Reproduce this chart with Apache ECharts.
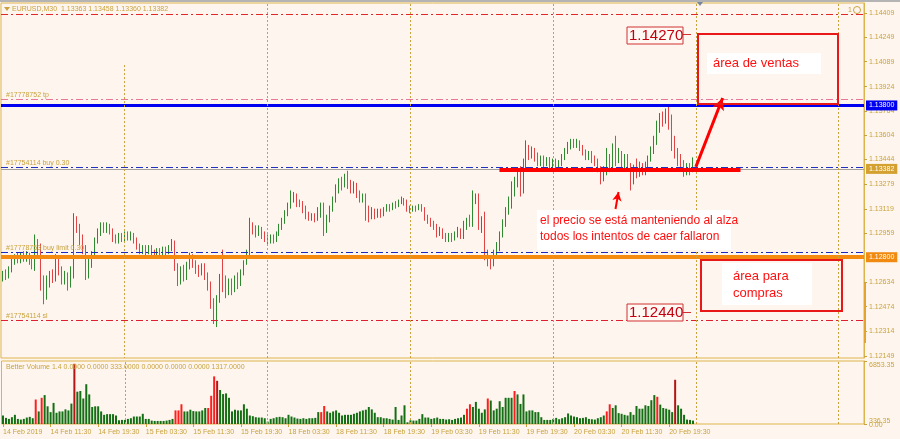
<!DOCTYPE html>
<html>
<head>
<meta charset="utf-8">
<title>EURUSD M30</title>
<script src="https://cdn.jsdelivr.net/npm/echarts@6/dist/echarts.min.js"></script>
<style>
html,body{margin:0;padding:0;background:#fef6ee;}
#chart{width:900px;height:439px;}
</style>
</head>
<body>
<div id="chart"></div>
<script>
// velas M30 [open, close, low, high], 14 Feb 03:30 -> 20 Feb 23:30
const candles = [
  [1.1266,1.1269,1.1264,1.1271],[1.1269,1.1267,1.1265,1.1272],[1.1267,1.1272,1.1266,1.1274],[1.1272,1.1277,1.1270,1.1279],
  [1.1277,1.1280,1.1275,1.1282],[1.1280,1.1278,1.1276,1.1283],[1.1278,1.1281,1.1276,1.1283],[1.1281,1.1279,1.1277,1.1284],
  [1.1279,1.1282,1.1277,1.1284],[1.1282,1.1277,1.1275,1.1283],[1.1277,1.1275,1.1272,1.1280],[1.1275,1.1289,1.1271,1.1295],
  [1.1289,1.1286,1.1280,1.1292],[1.1286,1.1263,1.1258,1.1289],[1.1263,1.1254,1.1249,1.1268],[1.1254,1.1263,1.1252,1.1268],
  [1.1263,1.1268,1.1260,1.1271],[1.1268,1.1266,1.1263,1.1272],[1.1266,1.1279,1.1264,1.1282],[1.1279,1.1272,1.1268,1.1281],
  [1.1272,1.1265,1.1262,1.1274],[1.1265,1.1269,1.1262,1.1271],[1.1269,1.1262,1.1258,1.1270],[1.1262,1.1270,1.1260,1.1274],
  [1.1270,1.1305,1.1266,1.1309],[1.1305,1.1299,1.1296,1.1307],[1.1299,1.1292,1.1288,1.1302],[1.1292,1.1286,1.1282,1.1295],
  [1.1286,1.1270,1.1265,1.1288],[1.1270,1.1276,1.1266,1.1279],[1.1276,1.1282,1.1273,1.1284],[1.1282,1.1291,1.1280,1.1293],
  [1.1291,1.1297,1.1289,1.1299],[1.1297,1.1301,1.1294,1.1303],[1.1301,1.1298,1.1296,1.1303],[1.1298,1.1301,1.1296,1.1303],
  [1.1301,1.1297,1.1295,1.1302],[1.1297,1.1292,1.1290,1.1299],[1.1292,1.1291,1.1289,1.1295],[1.1291,1.1294,1.1289,1.1296],
  [1.1294,1.1292,1.1290,1.1296],[1.1292,1.1295,1.1290,1.1297],[1.1295,1.1293,1.1291,1.1297],[1.1293,1.1295,1.1291,1.1297],
  [1.1295,1.1291,1.1289,1.1296],[1.1291,1.1287,1.1285,1.1293],[1.1287,1.1284,1.1282,1.1289],[1.1284,1.1286,1.1282,1.1288],
  [1.1286,1.1283,1.1281,1.1288],[1.1283,1.1286,1.1282,1.1288],[1.1286,1.1283,1.1281,1.1288],[1.1283,1.1282,1.1280,1.1285],
  [1.1282,1.1284,1.1280,1.1286],[1.1284,1.1282,1.1280,1.1286],[1.1282,1.1285,1.1280,1.1287],[1.1285,1.1283,1.1281,1.1287],
  [1.1283,1.1286,1.1282,1.1288],[1.1286,1.1288,1.1284,1.1292],[1.1288,1.1274,1.1271,1.1291],[1.1274,1.1265,1.1261,1.1276],
  [1.1265,1.1271,1.1262,1.1274],[1.1271,1.1267,1.1264,1.1275],[1.1267,1.1274,1.1265,1.1277],[1.1274,1.1280,1.1272,1.1283],
  [1.1280,1.1276,1.1273,1.1282],[1.1276,1.1272,1.1269,1.1278],[1.1272,1.1270,1.1267,1.1275],[1.1270,1.1274,1.1268,1.1276],
  [1.1274,1.1268,1.1265,1.1276],[1.1268,1.1262,1.1258,1.1270],[1.1262,1.1250,1.1246,1.1264],[1.1250,1.1241,1.1236,1.1253],
  [1.1241,1.1252,1.1234,1.1255],[1.1252,1.1266,1.1250,1.1269],[1.1266,1.1261,1.1257,1.1285],[1.1261,1.1256,1.1253,1.1268],
  [1.1256,1.1262,1.1255,1.1266],[1.1262,1.1258,1.1255,1.1266],[1.1258,1.1265,1.1257,1.1268],[1.1265,1.1262,1.1259,1.1270],
  [1.1262,1.1270,1.1261,1.1272],[1.1270,1.1276,1.1268,1.1278],[1.1276,1.1282,1.1275,1.1285],[1.1282,1.1301,1.1280,1.1306],
  [1.1301,1.1298,1.1295,1.1303],[1.1298,1.1295,1.1293,1.1301],[1.1295,1.1298,1.1294,1.1301],[1.1298,1.1294,1.1292,1.1300],
  [1.1294,1.1292,1.1290,1.1297],[1.1292,1.1290,1.1288,1.1295],[1.1290,1.1293,1.1289,1.1295],[1.1293,1.1291,1.1289,1.1295],
  [1.1291,1.1295,1.1290,1.1297],[1.1295,1.1300,1.1294,1.1302],[1.1300,1.1304,1.1298,1.1306],[1.1304,1.1309,1.1302,1.1311],
  [1.1309,1.1314,1.1307,1.1316],[1.1314,1.1319,1.1312,1.1324],[1.1319,1.1320,1.1316,1.1323],[1.1320,1.1316,1.1313,1.1322],
  [1.1316,1.1315,1.1313,1.1318],[1.1315,1.1312,1.1309,1.1317],[1.1312,1.1308,1.1305,1.1314],[1.1308,1.1306,1.1304,1.1310],
  [1.1306,1.1307,1.1304,1.1309],[1.1307,1.1305,1.1303,1.1309],[1.1305,1.1310,1.1304,1.1313],[1.1310,1.1314,1.1306,1.1316],
  [1.1314,1.1297,1.1294,1.1316],[1.1297,1.1305,1.1296,1.1308],[1.1305,1.1312,1.1303,1.1314],[1.1312,1.1318,1.1310,1.1320],
  [1.1318,1.1326,1.1316,1.1328],[1.1326,1.1330,1.1322,1.1332],[1.1330,1.1327,1.1324,1.1333],[1.1327,1.1332,1.1326,1.1335],
  [1.1332,1.1329,1.1325,1.1337],[1.1329,1.1324,1.1322,1.1331],[1.1324,1.1328,1.1322,1.1330],[1.1328,1.1322,1.1319,1.1329],
  [1.1322,1.1318,1.1316,1.1324],[1.1318,1.1320,1.1316,1.1322],[1.1320,1.1310,1.1304,1.1322],[1.1310,1.1306,1.1303,1.1314],
  [1.1306,1.1310,1.1305,1.1313],[1.1310,1.1307,1.1305,1.1312],[1.1307,1.1310,1.1306,1.1312],[1.1310,1.1308,1.1306,1.1312],
  [1.1308,1.1311,1.1307,1.1313],[1.1311,1.1313,1.1310,1.1315],[1.1313,1.1312,1.1310,1.1315],[1.1312,1.1315,1.1311,1.1316],
  [1.1315,1.1314,1.1312,1.1317],[1.1314,1.1316,1.1313,1.1318],[1.1316,1.1318,1.1315,1.1320],[1.1318,1.1316,1.1314,1.1319],
  [1.1316,1.1312,1.1310,1.1318],[1.1312,1.1311,1.1309,1.1314],[1.1311,1.1313,1.1310,1.1314],[1.1313,1.1312,1.1310,1.1314],
  [1.1312,1.1314,1.1311,1.1315],[1.1314,1.1312,1.1310,1.1315],[1.1312,1.1306,1.1304,1.1313],[1.1306,1.1304,1.1302,1.1308],
  [1.1304,1.1302,1.1300,1.1306],[1.1302,1.1300,1.1298,1.1304],[1.1300,1.1296,1.1293,1.1302],[1.1296,1.1298,1.1294,1.1300],
  [1.1298,1.1294,1.1292,1.1299],[1.1294,1.1292,1.1290,1.1296],[1.1292,1.1294,1.1290,1.1296],[1.1294,1.1292,1.1290,1.1296],
  [1.1292,1.1295,1.1291,1.1297],[1.1295,1.1297,1.1293,1.1300],[1.1297,1.1294,1.1292,1.1299],[1.1294,1.1300,1.1292,1.1304],
  [1.1300,1.1304,1.1298,1.1306],[1.1304,1.1302,1.1300,1.1308],[1.1302,1.1318,1.1300,1.1324],[1.1318,1.1320,1.1315,1.1322],
  [1.1320,1.1300,1.1298,1.1322],[1.1300,1.1304,1.1296,1.1307],[1.1304,1.1280,1.1278,1.1310],[1.1280,1.1278,1.1274,1.1285],
  [1.1278,1.1276,1.1272,1.1281],[1.1276,1.1283,1.1274,1.1285],[1.1283,1.1286,1.1280,1.1290],[1.1286,1.1295,1.1284,1.1297],
  [1.1295,1.1302,1.1293,1.1305],[1.1302,1.1310,1.1300,1.1313],[1.1310,1.1316,1.1308,1.1320],[1.1316,1.1322,1.1312,1.1330],
  [1.1322,1.1330,1.1320,1.1333],[1.1330,1.1336,1.1326,1.1338],[1.1336,1.1325,1.1320,1.1340],[1.1325,1.1340,1.1322,1.1345],
  [1.1340,1.1352,1.1338,1.1357],[1.1352,1.1348,1.1344,1.1354],[1.1348,1.1350,1.1345,1.1353],[1.1350,1.1346,1.1343,1.1352],
  [1.1346,1.1342,1.1340,1.1349],[1.1342,1.1345,1.1340,1.1347],[1.1345,1.1342,1.1339,1.1347],[1.1342,1.1344,1.1340,1.1346],
  [1.1344,1.1341,1.1338,1.1346],[1.1341,1.1343,1.1338,1.1345],[1.1343,1.1340,1.1337,1.1345],[1.1340,1.1342,1.1338,1.1344],
  [1.1342,1.1346,1.1340,1.1348],[1.1346,1.1350,1.1344,1.1352],[1.1350,1.1353,1.1348,1.1356],[1.1353,1.1356,1.1351,1.1358],
  [1.1356,1.1354,1.1352,1.1358],[1.1354,1.1356,1.1352,1.1358],[1.1356,1.1352,1.1350,1.1357],[1.1352,1.1349,1.1347,1.1354],
  [1.1349,1.1346,1.1344,1.1351],[1.1346,1.1348,1.1344,1.1350],[1.1348,1.1344,1.1342,1.1350],[1.1344,1.1342,1.1340,1.1347],
  [1.1342,1.1338,1.1336,1.1345],[1.1338,1.1333,1.1328,1.1340],[1.1333,1.1336,1.1330,1.1340],[1.1336,1.1344,1.1334,1.1352],
  [1.1344,1.1340,1.1336,1.1348],[1.1340,1.1350,1.1338,1.1355],[1.1350,1.1345,1.1340,1.1360],[1.1345,1.1348,1.1342,1.1352],
  [1.1348,1.1342,1.1338,1.1350],[1.1342,1.1345,1.1338,1.1348],[1.1345,1.1340,1.1337,1.1348],[1.1340,1.1330,1.1324,1.1342],
  [1.1330,1.1338,1.1328,1.1341],[1.1338,1.1335,1.1332,1.1345],[1.1335,1.1340,1.1333,1.1343],[1.1340,1.1336,1.1334,1.1342],
  [1.1336,1.1340,1.1334,1.1343],[1.1340,1.1345,1.1338,1.1347],[1.1345,1.1350,1.1343,1.1353],[1.1350,1.1356,1.1348,1.1360],
  [1.1356,1.1365,1.1354,1.1370],[1.1365,1.1372,1.1362,1.1375],[1.1372,1.1370,1.1366,1.1376],[1.1370,1.1373,1.1368,1.1378],
  [1.1373,1.1368,1.1364,1.1380],[1.1368,1.1355,1.1350,1.1374],[1.1355,1.1350,1.1345,1.1360],[1.1350,1.1345,1.1340,1.1352],
  [1.1345,1.1340,1.1337,1.1348],[1.1340,1.1336,1.1333,1.1344],[1.1336,1.1340,1.1334,1.1342],[1.1340,1.1336,1.1334,1.1342],
  [1.13363,1.13382,1.13360,1.13458]
];

// Better Volume
const volumes = [
  925,666,555,740,999,555,481,555,703,777,629,2664,1369,2849,3145,1924,1295,2294,1221,1369,
  1369,1591,1480,2220,6549,3515,3589,2775,4329,3219,1850,1924,1924,1369,999,1073,1073,1073,925,407,
  444,444,555,629,814,814,814,1110,555,555,370,333,333,333,333,370,444,555,1480,1480,
  2146,1369,1369,1554,1406,1369,1369,1480,1739,1739,3071,5180,4699,3700,3256,3330,2849,1369,1554,1480,
  1480,2146,1665,925,851,740,703,703,629,259,555,629,740,777,740,629,999,814,703,592,
  555,629,555,629,629,666,1295,1295,1961,1369,1221,1369,1480,1221,925,999,999,999,1110,1221,
  1369,1480,1554,1850,1591,1221,740,740,629,629,555,481,1850,444,925,2035,185,407,370,370,
  555,1073,703,703,555,629,703,555,555,480,520,444,555,629,703,999,1665,2146,1850,2405,
  1665,1221,1591,2775,2553,1480,1665,2479,1850,2849,2849,2849,3589,3219,2183,3219,1369,1480,1480,1295,
  1295,740,444,444,444,555,666,518,629,740,1147,925,814,740,629,666,740,555,518,481,
  629,740,925,1369,2146,1739,2035,1184,1110,999,925,1295,999,1961,1665,1665,2035,1961,2590,3145,
  2960,2109,1739,1665,1554,1295,4810,2035,1665,999,481,444,370
];
const volClimax = [11,13,58,59,60,69,70,71,107,108,156,157,163,172,203,204,220];
const volChurn = [24,72,226];
const volLevel = 336.35;

const timeLabels = ['14 Feb 2019','14 Feb 11:30','14 Feb 19:30','15 Feb 03:30','15 Feb 11:30','15 Feb 19:30',
  '18 Feb 03:30','18 Feb 11:30','18 Feb 19:30','19 Feb 03:30','19 Feb 11:30','19 Feb 19:30',
  '20 Feb 03:30','20 Feb 11:30','20 Feb 19:30'];
const timeLabelIdx = [0,16,32,48,64,80,96,112,128,144,160,176,192,208,224];
const daySeparators = [41,89,137,185,233,281];

const priceTicks = [1.14409,1.14249,1.14089,1.13924,1.13764,1.13604,1.13444,1.13279,1.13119,1.12959,1.12634,1.12474,1.12314,1.12149];
const volTicks = [0,6853.35];

// niveles de las órdenes
const levelPrices = [1.14400,1.13839,1.13800,1.13392,1.13382,1.12832,1.12800,1.12384];
const levelNames = ['','#17778752 tp','','#17754114 buy 0.30','','#17778753 buy limit 0.30','','#17754114 sl'];
const priceMarks = [1.14270,1.12440];

const slots = 290;
const gold = '#c9a23e';
const frame = '#dcb44c';
const dashDot = [7,3,2,3];

const levelStyles = [
  {color:'#e02828', width:1, type:dashDot},
  {color:'#e8789a', width:1, type:dashDot},
  {color:'#0000f0', width:3, type:'solid', tag:'#0000f0'},
  {color:'#2030c0', width:1, type:dashDot},
  {color:'#a0a0a0', width:1, type:'solid', tag:'#d4a030'},
  {color:'#1828c0', width:1, type:dashDot},
  {color:'#f58a10', width:4, type:'solid', tag:'#f08a10'},
  {color:'#e02030', width:1, type:dashDot}
];

let chart = echarts.init(document.getElementById('chart'));
let cats = [];
for (let i = 0; i < slots; i++) cats.push(String(i));

let levelLines = levelPrices.map((p, k) => {
  let st = levelStyles[k];
  let item = {yAxis: p, lineStyle: {color: st.color, width: st.width, type: st.type}, label: {show: false}};
  if (levelNames[k]) {
    item.label = {show: true, position: 'insideStartTop', formatter: levelNames[k], color: gold,
      fontSize: 7, fontFamily: 'Liberation Sans', distance: [5, 1]};
  } else if (st.tag) {
    item.label = {show: true, position: 'end', formatter: p.toFixed(5), color: '#fff', backgroundColor: st.tag,
      fontSize: 7, fontFamily: 'Liberation Sans', padding: [2, 3, 1, 3], distance: 2};
  }
  return item;
});

let sepStyle = {color: gold, width: 1, type: [2, 2]};
let mainSeps = daySeparators.map(i => {
  if (i === 41) return [{coord: [i, 1.14066], lineStyle: sepStyle, label: {show: false}}, {coord: [i, 1.12136]}];
  return {xAxis: i, lineStyle: sepStyle, label: {show: false}};
});

let volData = volumes.map((v, i) => ({
  value: v,
  itemStyle: {color: volChurn.includes(i) ? '#b51414' : (volClimax.includes(i) ? '#ff1e1e' : '#146e14')}
}));

let labelInterval = (idx) => timeLabelIdx.includes(idx);

chart.setOption({
  animation: false,
  backgroundColor: '#fef6ee',
  grid: [
    {left: 1, right: 36, top: 3, height: 355, show: true, borderColor: frame, borderWidth: 1},
    {left: 1, right: 36, top: 361, height: 63, show: true, borderColor: frame, borderWidth: 1}
  ],
  xAxis: [
    {type: 'category', gridIndex: 0, data: cats, boundaryGap: true,
      axisLine: {show: false}, axisTick: {show: false}, axisLabel: {show: false}, splitLine: {show: false}},
    {type: 'category', gridIndex: 1, data: cats, boundaryGap: true,
      axisLine: {show: false},
      axisTick: {show: true, interval: labelInterval, alignWithLabel: true, length: 3, lineStyle: {color: gold}},
      axisLabel: {interval: labelInterval, align: 'left', margin: 5, fontSize: 7, color: gold,
        fontFamily: 'Liberation Sans', formatter: (v, idx) => timeLabels[timeLabelIdx.indexOf(Number(v))] || ''},
      splitLine: {show: false}}
  ],
  yAxis: [
    {type: 'value', gridIndex: 0, position: 'right', min: 1.12136, max: 1.14475,
      axisLine: {show: true, lineStyle: {color: frame}},
      axisTick: {show: true, customValues: priceTicks, length: 3, lineStyle: {color: gold}},
      axisLabel: {customValues: priceTicks, formatter: v => v.toFixed(5), fontSize: 7, color: gold,
        fontFamily: 'Liberation Sans', margin: 5},
      splitLine: {show: false}},
    {type: 'value', gridIndex: 1, position: 'right', min: 0, max: 6853.35,
      axisLine: {show: true, lineStyle: {color: frame}},
      axisTick: {show: true, customValues: volTicks, length: 3, lineStyle: {color: gold}},
      axisLabel: {customValues: volTicks, showMinLabel: true, showMaxLabel: true,
        fontSize: 7, color: gold, fontFamily: 'Liberation Sans', margin: 5,
        formatter: v => v > 6000 ? '{t|' + v.toFixed(2) + '}' : '{b|' + v.toFixed(2) + '}',
        rich: {t: {fontSize: 7, color: gold, padding: [9, 0, 0, 0]}, b: {fontSize: 7, color: gold, padding: [3, 0, 0, 0]}}},
      splitLine: {show: false}}
  ],
  series: [
    {
      name: 'EURUSD,M30', type: 'candlestick', xAxisIndex: 0, yAxisIndex: 0, data: candles,
      barWidth: 1,
      itemStyle: {color: '#3c9a3c', color0: '#ec5a5a', borderColor: '#2e8a2e', borderColor0: '#e04444', borderWidth: 1},
      markLine: {silent: true, symbol: 'none', precision: 5, animation: false, data: levelLines.concat(mainSeps)}
    },
    {
      name: 'Better Volume', type: 'bar', xAxisIndex: 1, yAxisIndex: 1, data: volData, barWidth: 2,
      markLine: {silent: true, symbol: 'none', precision: 5, animation: false, label: {show: false}, lineStyle: sepStyle,
        data: daySeparators.map(i => ({xAxis: i})).concat([{
          yAxis: volLevel, lineStyle: {color: 'rgba(0,0,0,0)', width: 0, type: 'solid'},
          label: {show: true, position: 'end', distance: 5, formatter: volLevel.toFixed(2), color: gold,
            fontSize: 7, fontFamily: 'Liberation Sans'}
        }])}
    },
    {
      // línea de soporte dibujada a mano
      name: 'soporte', type: 'line', xAxisIndex: 0, yAxisIndex: 0, data: [],
      markLine: {silent: true, symbol: 'none', precision: 5, animation: false, label: {show: false},
        lineStyle: {color: '#ff0000', width: 4, type: 'solid'},
        data: [[{coord: [167, 1.13378]}, {coord: [248, 1.13378]}]]}
    },
    {
      name: 'flechas', type: 'line', xAxisIndex: 0, yAxisIndex: 0, data: [],
      markLine: {silent: true, symbol: ['none', 'arrow'], symbolSize: [9, 12], precision: 5, animation: false, label: {show: false},
        data: [
          [{coord: [233, 1.13395], lineStyle: {color: '#ff0000', width: 3, type: 'solid'}}, {coord: [242, 1.13849]}],
          [{coord: [206, 1.13118], lineStyle: {color: '#ff0000', width: 2, type: 'solid'}, symbolSize: [7, 9]}, {coord: [207, 1.13230], symbolSize: [7, 9]}]
        ]}
    }
  ],
  graphic: [
    {type: 'rect', shape: {x: 0, y: 0, width: 900, height: 2}, style: {fill: '#b4b4b4'}, z: 50},
    {type: 'polygon', shape: {points: [[4, 7], [10, 7], [7, 11]]}, style: {fill: gold}, z: 50},
    {type: 'text', style: {text: 'EURUSD,M30  1.13363 1.13458 1.13360 1.13382', x: 12, y: 9, fill: gold,
      font: '7px "Liberation Sans"', verticalAlign: 'middle'}, z: 50},
    {type: 'polygon', shape: {points: [[697, 2], [703, 2], [700, 6]]}, style: {fill: '#7888a0'}, z: 50},
    {type: 'text', style: {text: '1', x: 848, y: 10, fill: gold, font: '7px "Liberation Sans"', verticalAlign: 'middle'}, z: 50},
    {type: 'circle', shape: {cx: 857, cy: 10, r: 3.5}, style: {fill: 'none', stroke: gold, lineWidth: 1}, z: 50},
    {type: 'rect', shape: {x: 864, y: 283, width: 2, height: 60}, style: {fill: '#e4a32c'}, z: 50},
    {type: 'text', style: {text: 'Better Volume 1.4 0.0000 0.0000 333.0000 0.0000 0.0000 0.0000 1317.0000', x: 6, y: 367,
      fill: gold, font: '7px "Liberation Sans"', verticalAlign: 'middle'}, z: 50},

    // zona de ventas
    {type: 'rect', shape: {x: 698, y: 34, width: 140, height: 70}, style: {fill: 'none', stroke: '#e81818', lineWidth: 2}, z: 60},
    {type: 'rect', shape: {x: 707, y: 53, width: 114, height: 21}, style: {fill: '#ffffff'}, z: 60},
    {type: 'text', style: {text: 'área de ventas', x: 713, y: 63.5, fill: '#ff1010', font: '13px "Liberation Sans"', verticalAlign: 'middle'}, z: 61},

    // zona de compras
    {type: 'rect', shape: {x: 701, y: 260, width: 141, height: 51}, style: {fill: 'none', stroke: '#e81818', lineWidth: 2}, z: 60},
    {type: 'rect', shape: {x: 722, y: 263, width: 90, height: 42}, style: {fill: '#ffffff'}, z: 60},
    {type: 'text', style: {text: 'área para', x: 733, y: 276, fill: '#ff1010', font: '13px "Liberation Sans"', verticalAlign: 'middle'}, z: 61},
    {type: 'text', style: {text: 'compras', x: 733, y: 293, fill: '#ff1010', font: '13px "Liberation Sans"', verticalAlign: 'middle'}, z: 61},

    // comentario
    {type: 'rect', shape: {x: 537, y: 210, width: 194, height: 40}, style: {fill: '#ffffff'}, z: 60},
    {type: 'text', style: {text: 'el precio se está manteniendo al alza', x: 540, y: 221, fill: '#ff1010', font: '12px "Liberation Sans"', verticalAlign: 'middle'}, z: 61},
    {type: 'text', style: {text: 'todos los intentos de caer fallaron', x: 540, y: 237, fill: '#ff1010', font: '12px "Liberation Sans"', verticalAlign: 'middle'}, z: 61},

    // etiquetas de precio
    {type: 'rect', shape: {x: 627, y: 27, width: 56, height: 17}, style: {fill: '#fff8f3', stroke: '#d03030', lineWidth: 1}, z: 60},
    {type: 'text', style: {text: priceMarks[0].toFixed(5), x: 629, y: 36, fill: '#c40010', font: '15px "Liberation Sans"', verticalAlign: 'middle'}, z: 61},
    {type: 'line', shape: {x1: 683, y1: 34.5, x2: 691, y2: 34.5}, style: {stroke: '#d03030', lineWidth: 1}, z: 60},
    {type: 'rect', shape: {x: 627, y: 304, width: 56, height: 17}, style: {fill: '#fff8f3', stroke: '#d03030', lineWidth: 1}, z: 60},
    {type: 'text', style: {text: priceMarks[1].toFixed(5), x: 629, y: 313, fill: '#c40010', font: '15px "Liberation Sans"', verticalAlign: 'middle'}, z: 61},
    {type: 'line', shape: {x1: 683, y1: 312.5, x2: 691, y2: 312.5}, style: {stroke: '#d03030', lineWidth: 1}, z: 60}
  ]
});
</script>
</body>
</html>
